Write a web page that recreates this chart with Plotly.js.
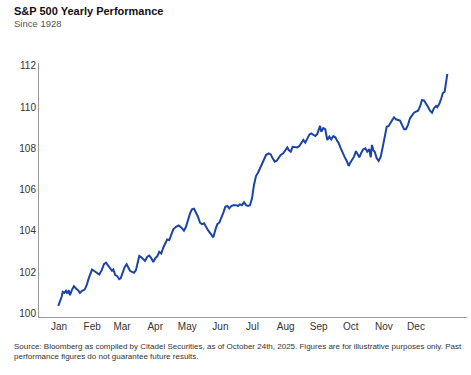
<!DOCTYPE html>
<html>
<head>
<meta charset="utf-8">
<script src="https://cdn.plot.ly/plotly-3.0.1.min.js"></script>
<style>
html,body{margin:0;padding:0;background:#fff;}
#chart{width:471px;height:375px;}
</style>
</head>
<body>
<div id="chart"></div>
<script>
// Day of year (approx.) and average cumulative performance (index, start = 100)
const days = [0.35,1.9,3.5,4.5,6.0,7.5,8.8,10.1,11.3,13.2,15.0,16.9,18.8,20.6,22.5,25.0,26.9,28.8,30.7,31.9,33.7,36.3,38.7,41.0,43.1,45.0,46.8,48.7,50.6,51.8,53.7,55.5,57.4,58.7,60.6,62.5,64.3,66.2,67.4,69.3,71.2,73.0,74.3,76.1,78.0,79.9,81.5,83.6,85.5,87.4,89.2,91.1,93.0,94.8,96.7,98.6,100.4,102.3,104.2,106.1,107.9,110.5,113.0,115.4,117.9,119.8,121.7,123.6,125.4,127.3,129.2,131.0,132.9,134.8,136.7,138.5,140.4,142.3,144.1,145.4,147.2,149.1,151.0,152.8,154.7,156.6,158.5,160.3,162.2,164.1,166.6,168.5,170.3,172.2,174.1,176.0,177.8,179.7,181.6,183.4,185.3,187.2,189.0,190.9,192.8,194.7,197.2,199.1,200.9,202.8,204.7,206.5,208.4,210.8,212.7,214.6,215.9,217.8,219.6,221.5,224.0,225.8,227.7,229.6,231.4,233.3,235.2,237.0,238.9,240.8,242.6,244.0,245.2,246.4,248.3,250.1,252.0,253.9,255.7,257.6,259.5,260.8,262.7,264.5,266.4,268.3,270.2,270.7,272.0,273.2,275.1,277.0,278.8,280.1,281.9,283.8,285.7,287.6,289.4,291.3,292.6,293.8,295.0,296.4,298.2,300.1,302.0,303.8,305.7,307.6,309.4,310.7,312.5,314.4,316.3,318.2,320.0,321.9,323.8,325.6,327.5,329.4,331.2,333.1,335.0,336.9,338.7,340.6,342.5,344.3,346.2,348.1,350.0,351.8,353.7,354.9,356.8,358.7,360.0,361.8,363.1,364.3];
const perf = [100.37,100.56,100.81,101.05,101.00,101.10,100.97,101.13,100.89,101.16,101.32,101.21,101.13,101.00,101.10,101.16,101.37,101.70,102.02,102.13,102.07,101.97,101.89,102.10,102.39,102.46,102.34,102.23,102.07,102.13,101.86,101.81,101.66,101.70,101.97,102.26,102.39,102.23,102.07,102.02,101.97,102.10,102.46,102.79,102.72,102.62,102.55,102.75,102.81,102.67,102.50,102.67,102.78,102.99,102.91,103.20,103.40,103.59,103.56,103.88,104.08,104.20,104.27,104.17,104.01,104.20,104.56,104.85,105.05,105.08,104.88,104.69,104.40,104.33,104.37,104.17,104.04,103.91,103.75,103.69,104.04,104.33,104.40,104.69,104.88,105.17,105.21,105.09,105.21,105.25,105.25,105.21,105.29,105.25,105.39,105.25,105.21,105.25,105.58,106.23,106.66,106.82,107.04,107.20,107.52,107.68,107.76,107.71,107.52,107.36,107.40,107.52,107.68,107.76,107.92,108.05,107.92,107.84,108.08,108.08,108.05,108.12,108.28,108.41,108.28,108.44,108.67,108.73,108.65,108.60,108.69,108.86,109.09,108.81,108.98,108.93,108.41,108.57,108.44,108.60,108.54,108.41,108.25,108.01,107.76,107.58,107.39,107.28,107.15,107.28,107.44,107.60,107.87,107.73,107.57,107.79,107.96,108.01,107.84,107.96,107.57,108.17,107.92,107.84,107.52,107.40,107.60,108.05,108.57,109.05,109.09,109.22,109.35,109.51,109.41,109.38,109.35,109.14,108.93,108.93,109.14,109.46,109.62,109.73,109.78,109.83,110.02,110.35,110.32,110.19,110.02,109.83,109.73,109.95,110.06,110.00,110.16,110.43,110.67,110.75,111.16,111.61];

const monthStart = [1,32,60,91,121,152,182,213,244,274,305,335];
const monthLabels = ["Jan","Feb","Mar","Apr","May","Jun","Jul","Aug","Sep","Oct","Nov","Dec"];
const yTicks = [100,102,104,106,108,110,112];

const trace = {
  x: days, y: perf, type: 'scatter', mode: 'lines',
  line: {color: '#1c43a6', width: 2},
  hoverinfo: 'skip'
};

const font = 'Arial, "Liberation Sans", sans-serif';
const L = 39, R = 467, T = 63, B = 317;
const W = 471, H = 375;
function px(x){ return (x - L) / (R - L); }
function py(y){ return (B - y) / (B - T); }

const layout = {
  width: W, height: H,
  margin: {l: L, r: W - R, t: T, b: H - B, pad: 0},
  paper_bgcolor: '#fff', plot_bgcolor: '#fff',
  showlegend: false,
  font: {family: font, color: '#333', size: 10},
  xaxis: {
    range: [-17.7, 382.7], tickvals: monthStart, ticktext: monthLabels,
    showgrid: false, zeroline: false, showline: true, linecolor: '#9a9a9a', linewidth: 1,
    ticks: '', tickfont: {size: 10, color: '#333'}, fixedrange: true
  },
  yaxis: {
    range: [99.83, 112.14], tickvals: yTicks,
    showgrid: false, zeroline: false, showline: true, linecolor: '#9a9a9a', linewidth: 1,
    ticks: '', tickfont: {size: 10, color: '#333'}, fixedrange: true
  },
  annotations: [
    {text: '<b>S&P 500 Yearly Performance</b>', xref: 'paper', yref: 'paper',
     x: px(12), y: py(11.5), xanchor: 'left', yanchor: 'middle', showarrow: false,
     font: {size: 11, color: '#111', family: font}},
    {text: 'Since 1928', xref: 'paper', yref: 'paper',
     x: px(12), y: py(23), xanchor: 'left', yanchor: 'middle', showarrow: false,
     font: {size: 9.5, color: '#555', family: font}},
    {text: 'Source: Bloomberg as compiled by Citadel Securities, as of October 24th, 2025. Figures are for illustrative purposes only. Past<br>performance figures do not guarantee future results.',
     xref: 'paper', yref: 'paper', x: px(12), y: py(351), xanchor: 'left', yanchor: 'middle',
     align: 'left', showarrow: false, font: {size: 8, color: '#333', family: font}}
  ]
};

Plotly.newPlot('chart', [trace], layout, {displayModeBar: false, staticPlot: true});
</script>
</body>
</html>
